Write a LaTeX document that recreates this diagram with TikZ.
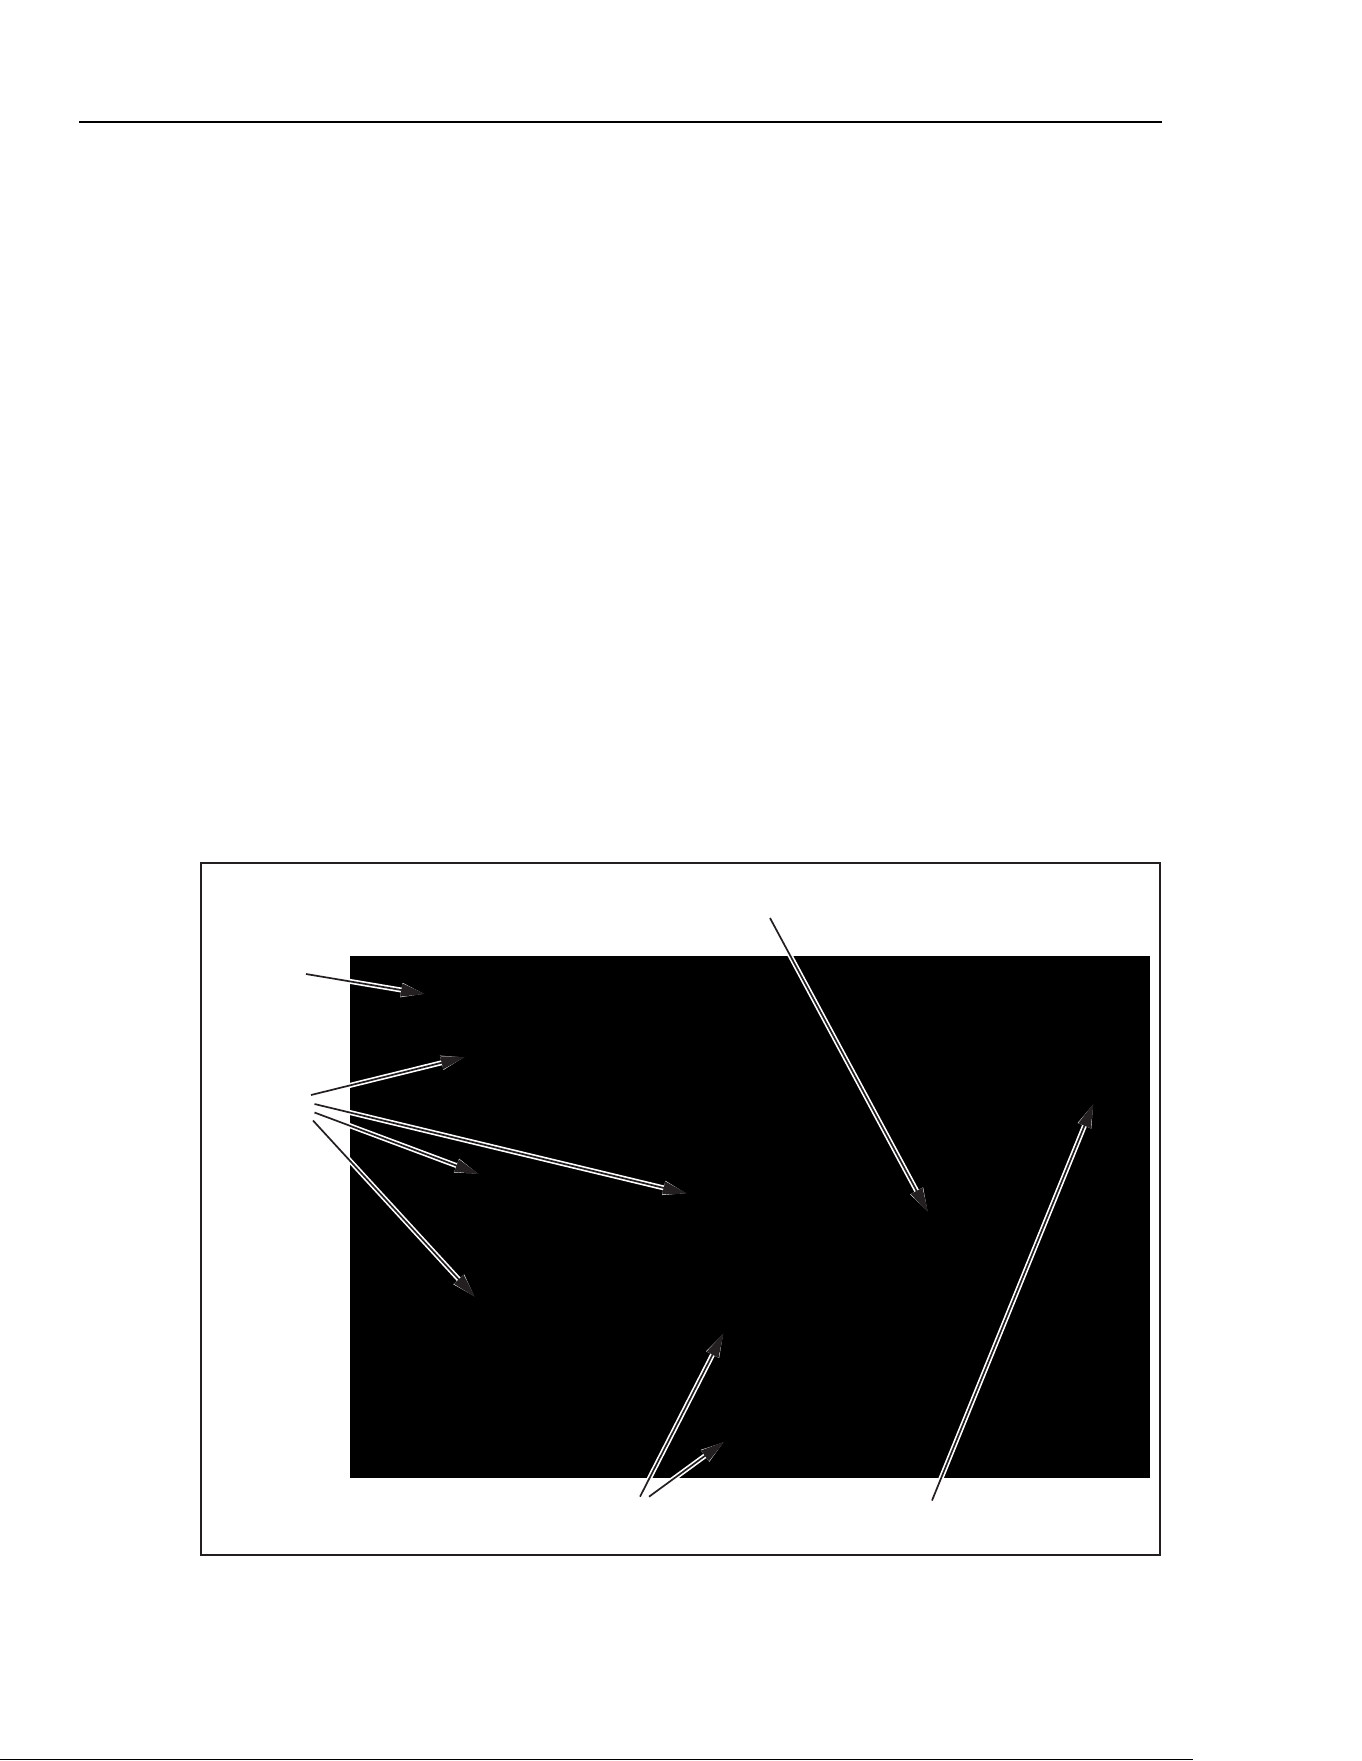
\documentclass[tikz,border=0pt]{standalone}
\usetikzlibrary{arrows.meta}
\definecolor{ink}{RGB}{35,31,32}
\tikzset{
  tipshape/.style={-{Triangle[length=12pt,width=6.5pt]}},
  arr/.style={draw=ink, line width=0.85pt, tipshape,
    preaction={draw=white, line width=2.5pt, tipshape}},
  rule/.style={draw=black, line width=0.65pt},
  frameline/.style={draw=ink, line width=0.85pt}
}
\begin{document}
\begin{tikzpicture}[x=0.5pt,y=-0.5pt]
\useasboundingbox (0,0) rectangle (1361,1761);
% top rule and bottom rule
\coordinate (rtl) at (79,122);
\coordinate (rtr) at (1162,122);
\draw[rule] (rtl) -- (rtr);
\coordinate (rbl) at (0,1759.5);
\coordinate (rbr) at (1193,1759.5);
\draw[rule, line width=0.8pt] (rbl) -- (rbr);
% frame and black panel
\draw[frameline] (200.7,862.7) rectangle (1160,1555);
\fill[black] (350,956) rectangle (1150,1478.3);
% arrow end points
\coordinate (a1s) at (306,974);     \coordinate (a1e) at (425,994);
\coordinate (a2s) at (311,1095);    \coordinate (a2e) at (465,1057);
\coordinate (a3s) at (314.5,1104);  \coordinate (a3e) at (687,1193.5);
\coordinate (a4s) at (314.5,1112.5);\coordinate (a4e) at (479,1174);
\coordinate (a5s) at (313,1120.5);  \coordinate (a5e) at (475,1297);
\coordinate (a6s) at (770,918);     \coordinate (a6e) at (928,1212);
\coordinate (a7s) at (932,1500.5);  \coordinate (a7e) at (1093.5,1103.5);
\coordinate (a8s) at (640,1496.7);  \coordinate (a8e) at (723.5,1333.3);
\coordinate (a9s) at (649,1496.7);  \coordinate (a9e) at (724.3,1441.7);
% arrows
\draw[arr] (a1s) -- (a1e);
\draw[arr] (a2s) -- (a2e);
\draw[arr] (a3s) -- (a3e);
\draw[arr] (a4s) -- (a4e);
\draw[arr] (a5s) -- (a5e);
\draw[arr] (a6s) -- (a6e);
\draw[arr] (a7s) -- (a7e);
\draw[arr] (a8s) -- (a8e);
\draw[arr] (a9s) -- (a9e);
\end{tikzpicture}
\end{document}
